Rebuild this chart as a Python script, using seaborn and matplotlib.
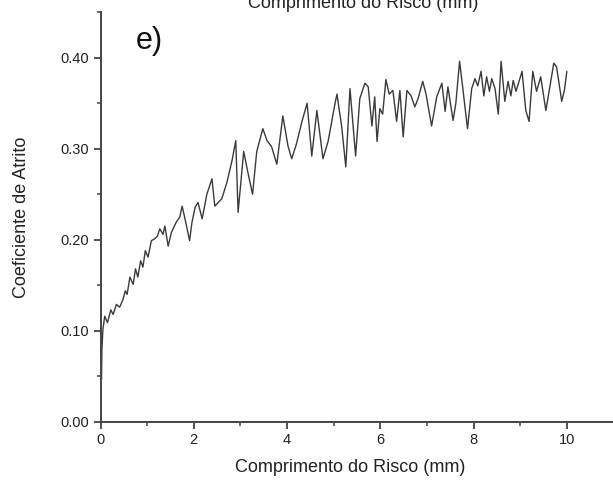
import numpy as np
import pandas as pd
import matplotlib
matplotlib.use("Agg")
import matplotlib.pyplot as plt
import seaborn as sns
from matplotlib.ticker import MultipleLocator, FormatStrFormatter

sns.set_theme(style="white")
plt.rcParams['font.family'] = ['Liberation Sans', 'DejaVu Sans']

# Scratch length (mm)
comprimento = [
    0.02, 0.03, 0.05, 0.09, 0.15, 0.22, 0.27, 0.34, 0.41, 0.48, 0.53, 0.57, 0.63, 0.70,
    0.75, 0.80, 0.86, 0.91, 0.96, 1.02, 1.09, 1.16, 1.22, 1.27, 1.34, 1.38, 1.45,
    1.52, 1.62, 1.70, 1.75, 1.82, 1.91, 1.96, 2.03, 2.09, 2.18, 2.28,
    2.39, 2.45, 2.60, 2.71, 2.82, 2.90, 2.95, 3.07, 3.16, 3.26, 3.35, 3.48, 3.57,
    3.67, 3.78, 3.91, 4.02, 4.10, 4.20, 4.32, 4.43, 4.53, 4.64, 4.77, 4.88, 5.03,
    5.07, 5.17, 5.26, 5.35, 5.47, 5.56, 5.67, 5.74, 5.82, 5.88, 5.93, 5.99, 6.05,
    6.12, 6.19, 6.27, 6.35, 6.42, 6.49, 6.57, 6.66, 6.74, 6.81, 6.91, 6.98, 7.10,
    7.21, 7.32, 7.39, 7.45, 7.56, 7.62, 7.70, 7.77, 7.87, 7.96, 8.03, 8.09, 8.16,
    8.22, 8.28, 8.34, 8.39, 8.46, 8.53, 8.59, 8.67, 8.74, 8.80, 8.85, 8.91, 8.98,
    9.04, 9.12, 9.19, 9.27, 9.35, 9.44, 9.55, 9.62, 9.72, 9.78, 9.89, 9.95, 10.00,
]
# Friction coefficient
atrito = [
    0.046, 0.080, 0.101, 0.116, 0.109, 0.123, 0.118, 0.129, 0.126, 0.134, 0.144, 0.140, 0.159, 0.151,
    0.168, 0.159, 0.177, 0.170, 0.188, 0.181, 0.199, 0.201, 0.204, 0.212, 0.206, 0.215, 0.193,
    0.208, 0.219, 0.225, 0.237, 0.221, 0.199, 0.219, 0.236, 0.241, 0.223, 0.250,
    0.267, 0.237, 0.245, 0.263, 0.287, 0.309, 0.230, 0.297, 0.274, 0.250, 0.297, 0.322, 0.309,
    0.302, 0.283, 0.336, 0.303, 0.289, 0.305, 0.330, 0.350, 0.292, 0.342, 0.289, 0.308, 0.350,
    0.360, 0.325, 0.280, 0.366, 0.292, 0.355, 0.372, 0.368, 0.325, 0.357, 0.308, 0.344, 0.338,
    0.376, 0.360, 0.364, 0.330, 0.364, 0.313, 0.364, 0.358, 0.346, 0.355, 0.374, 0.360, 0.325,
    0.357, 0.372, 0.341, 0.368, 0.331, 0.350, 0.396, 0.366, 0.322, 0.366, 0.377, 0.369, 0.385,
    0.358, 0.379, 0.363, 0.377, 0.366, 0.338, 0.396, 0.352, 0.374, 0.358, 0.375, 0.363, 0.375,
    0.385, 0.342, 0.330, 0.385, 0.363, 0.379, 0.342, 0.363, 0.394, 0.390, 0.352, 0.365, 0.385,
]

x_ticks = [0, 2, 4, 6, 8, 10]
y_ticks = [0.00, 0.10, 0.20, 0.30, 0.40]

df = pd.DataFrame({"Comprimento": comprimento, "Atrito": atrito})

fig = plt.figure(figsize=(6.13, 4.86), dpi=100)
ax = fig.add_axes([0.164, 0.132, 0.836, 0.843])

sns.lineplot(data=df, x="Comprimento", y="Atrito", ax=ax, color="#3a3a3a",
             linewidth=1.0, sort=False, estimator=None)

ax.set_xlim(0, 10.99)
ax.set_ylim(0, 0.45)
ax.set_xticks(x_ticks)
ax.set_yticks(y_ticks)
ax.xaxis.set_minor_locator(MultipleLocator(1))
ax.yaxis.set_minor_locator(MultipleLocator(0.05))
ax.yaxis.set_major_formatter(FormatStrFormatter("%.2f"))
ax.set_xticklabels([str(t) for t in x_ticks])

for s in ["top", "right"]:
    ax.spines[s].set_visible(False)
for s in ["left", "bottom"]:
    ax.spines[s].set_color("#444444")
    ax.spines[s].set_linewidth(1.4)

ax.tick_params(which="major", direction="out", length=5, width=1.3, color="#444444",
               labelsize=10.5, labelcolor="#222222", pad=3)
ax.tick_params(which="minor", direction="out", length=3, width=1.1, color="#444444")
ax.tick_params(axis="x", which="both", bottom=True)
ax.tick_params(axis="y", which="both", left=True)

ax.set_xlabel("Comprimento do Risco (mm)", fontsize=13, color="#222222", labelpad=8)
ax.set_ylabel("Coeficiente de Atrito", fontsize=13, color="#222222", labelpad=22)
ax.xaxis.set_label_coords(0.487, -0.09)

ax.grid(False)

fig.text(0.222, 0.899, "e)", fontsize=22, color="#111111", va="baseline")
fig.text(0.593, 0.984, "Comprimento do Risco (mm)", fontsize=13, color="#222222",
         ha="center", va="baseline")

fig.savefig("out.png", dpi=100)
